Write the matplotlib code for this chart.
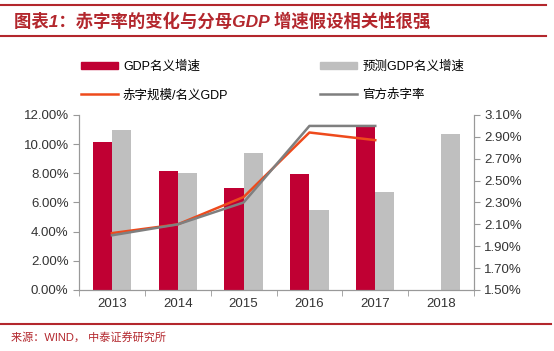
import matplotlib
matplotlib.use("Agg")
import matplotlib.pyplot as plt
from matplotlib.patches import Patch
from matplotlib.lines import Line2D
import numpy as np

plt.rcParams['font.family'] = ['Liberation Sans', 'Noto Sans CJK SC', 'DejaVu Sans']

# dados
anos = ["2013", "2014", "2015", "2016", "2017", "2018"]
gdp_nominal = [10.13, 8.18, 7.0, 7.93, 11.27, None]        # %
gdp_previsto = [11.0, 8.0, 9.37, 5.47, 6.7, 10.68]          # %
deficit_gdp = [2.02, 2.1, 2.35, 2.94, 2.87]                 # %, 2013-2017
deficit_oficial = [2.0, 2.1, 2.3, 3.0, 3.0]                 # %, 2013-2017
ticks_esq = [0, 2, 4, 6, 8, 10, 12]
ticks_dir = [1.5, 1.7, 1.9, 2.1, 2.3, 2.5, 2.7, 2.9, 3.1]

vermelho = "#C00033"
cinza = "#BFBFBF"
laranja = "#EE4A1C"
cinza_linha = "#7F7F7F"
vinho = "#B3272D"

fig = plt.figure(figsize=(5.54, 3.51), dpi=100)
ax = fig.add_axes([0.1426, 0.1738, 0.713, 0.4986])
ax2 = ax.twinx()

x = np.arange(len(anos))
w = 0.29
gn = [np.nan if v is None else v for v in gdp_nominal]
ax.bar(x - w / 2, gn, width=w, color=vermelho, zorder=2)
ax.bar(x + w / 2, gdp_previsto, width=w, color=cinza, zorder=2)

xl = x[:len(deficit_gdp)]
ax2.plot(xl, deficit_gdp, color=laranja, lw=1.8, zorder=3)
ax2.plot(xl, deficit_oficial, color=cinza_linha, lw=1.8, zorder=4)

ax.set_xlim(-0.5, len(anos) - 0.5)
ax.set_ylim(0, 12)
ax.set_yticks(ticks_esq)
ax.set_yticklabels([f"{v:.2f}%" for v in ticks_esq])
ax2.set_ylim(1.5, 3.1)
ax2.set_yticks(ticks_dir)
ax2.set_yticklabels([f"{v:.2f}%" for v in ticks_dir])

ax.set_xticks(x)
ax.set_xticklabels(anos)
ax.set_xticks(np.arange(-0.5, len(anos)), minor=True)
ax.tick_params(axis="x", which="major", length=0, pad=6)
ax.tick_params(axis="x", which="minor", length=4, color="#999999")

for a in (ax, ax2):
    a.spines["top"].set_visible(False)
    for s in ("left", "right", "bottom"):
        a.spines[s].set_color("#999999")
    a.tick_params(axis="y", length=4, color="#999999", labelsize=9.5, labelcolor="#333333")
ax.tick_params(axis="x", labelsize=9.5, labelcolor="#333333")

handles = [
    Patch(color=vermelho, label="GDP名义增速"),
    Line2D([], [], color=laranja, lw=1.8, label="赤字规模/名义GDP"),
    Patch(color=cinza, label="预测GDP名义增速"),
    Line2D([], [], color=cinza_linha, lw=1.8, label="官方赤字率"),
]
fig.legend(handles=handles, ncol=2, loc="upper left", bbox_to_anchor=(0.125, 0.86),
           frameon=False, fontsize=9, handlelength=3, handleheight=0.5,
           columnspacing=7.3, labelspacing=1.3, handletextpad=0.4)

# título e linhas decorativas
fig.add_artist(Line2D([0.0, 0.985], [0.985, 0.985], color=vinho, lw=1.5))
fig.add_artist(Line2D([0.0, 0.985], [0.897, 0.897], color=vinho, lw=1.5))
fig.text(0.025, 0.94, "图表1：赤字率的变化与分母GDP 增速假设相关性很强", color=vinho,
         fontsize=12.5, fontweight="bold", style="italic", va="center")
fig.add_artist(Line2D([0.0, 0.995], [0.077, 0.077], color=vinho, lw=1.5))
fig.text(0.02, 0.04, "来源：WIND， 中泰证券研究所", color=vinho, fontsize=8, va="center")

fig.savefig("out.png", dpi=100)
